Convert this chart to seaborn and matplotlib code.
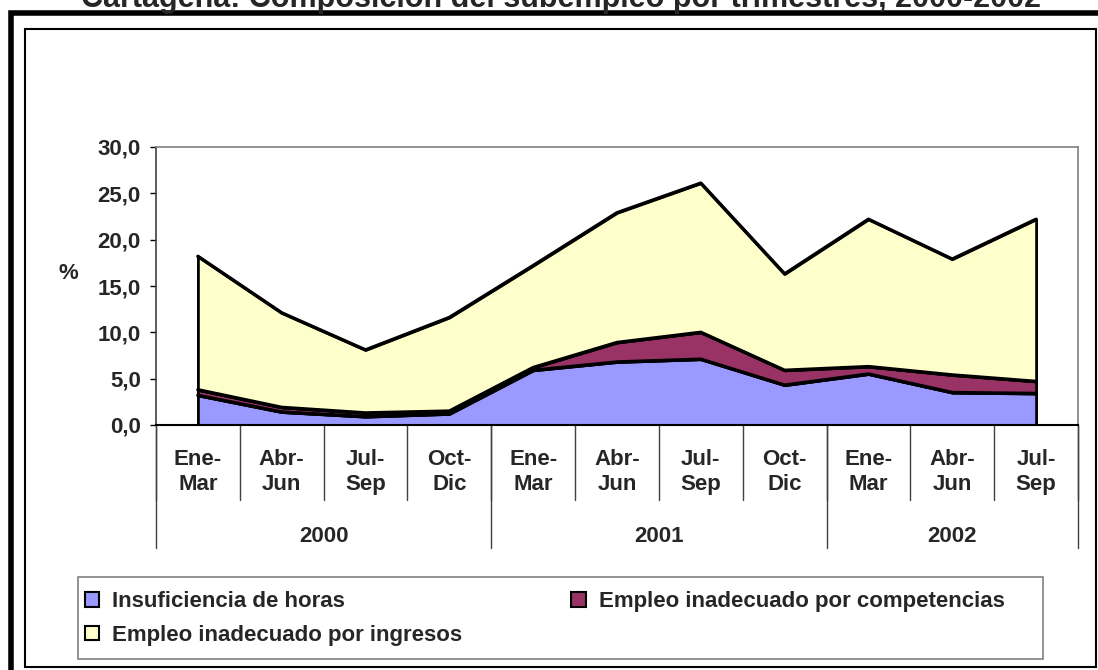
import numpy as np
import pandas as pd
import seaborn as sns
import matplotlib.pyplot as plt
import matplotlib.transforms as mtransforms
from matplotlib.patches import Rectangle, Patch

#------------------------------------------------------------------------------#
# Cartagena: composicion del subempleo por trimestres, 2000-2002
#------------------------------------------------------------------------------#

trimestres = ['Ene-\nMar', 'Abr-\nJun', 'Jul-\nSep', 'Oct-\nDic',
              'Ene-\nMar', 'Abr-\nJun', 'Jul-\nSep', 'Oct-\nDic',
              'Ene-\nMar', 'Abr-\nJun', 'Jul-\nSep']
anios = ['2000', '2001', '2002']
trim_por_anio = [4, 4, 3]

horas        = [3.2, 1.4, 0.9, 1.2, 5.9, 6.8, 7.1, 4.3, 5.5, 3.5, 3.4]
competencias = [0.6, 0.5, 0.4, 0.3, 0.3, 2.1, 2.9, 1.6, 0.8, 1.9, 1.3]
ingresos     = [14.4, 10.2, 6.8, 10.1, 11.0, 14.0, 16.1, 10.4, 15.9, 12.5, 17.5]

series  = ['Insuficiencia de horas', 'Empleo inadecuado por competencias',
           'Empleo inadecuado por ingresos']
colores = ['#9999FF', '#993366', '#FFFFCC']

titulo = 'Cartagena: Composición del subempleo por trimestres, 2000-2002'

#------------------------------------------------------------------------------#

W, H = 1098, 670

def fx(px):
    return px / W

def fy(py):
    return 1 - py / H

def main():

    sns.set_style('white')
    plt.rcParams['font.family'] = ['Liberation Sans', 'DejaVu Sans']
    plt.rcParams['font.weight'] = 'bold'

    fig = plt.figure(figsize=(W / 100, H / 100), dpi=100)
    ax = fig.add_axes([fx(156), fy(425), fx(1078) - fx(156), fy(147) - fy(425)])

    x = np.arange(len(trimestres))
    ax.stackplot(x, horas, competencias, ingresos, colors=colores,
                 edgecolor='black', linewidth=2.0, zorder=2)

    # black boundary lines of every stacked level
    cum = np.cumsum(np.vstack([horas, competencias, ingresos]), axis=0)
    DF = pd.DataFrame({'pos': np.tile(x, 3),
                       'valor': cum.ravel(),
                       'nivel': np.repeat(series, len(x))})
    sns.lineplot(data=DF, x='pos', y='valor', hue='nivel',
                 palette=['black'] * 3, legend=False, linewidth=2.5,
                 ax=ax, zorder=3)

    ax.set_xlim(-0.5, len(trimestres) - 0.5)
    ax.set_ylim(0, 30)
    yt = np.arange(0, 31, 5)
    ax.set_yticks(yt)
    ax.set_yticklabels([('%.1f' % v).replace('.', ',') for v in yt],
                       fontsize=16, fontweight='bold')
    ax.set_xticks([])
    ax.set_xlabel('')
    ax.set_ylabel('')
    ax.tick_params(axis='y', left=True, direction='out', length=4.5,
                   width=1, color='black', pad=6.5)

    for s in ['top', 'right']:
        ax.spines[s].set_color('#808080')
        ax.spines[s].set_linewidth(1.2)
    ax.spines['left'].set_color('#404040')
    ax.spines['left'].set_linewidth(1.2)
    ax.spines['bottom'].set_color('black')
    ax.spines['bottom'].set_linewidth(1.5)
    for s in ax.spines.values():
        s.set_zorder(5)

    # category axis: quarter labels, year labels and dividers
    trans = mtransforms.blended_transform_factory(ax.transData, ax.transAxes)
    for i, lab in enumerate(trimestres):
        ax.text(i, -0.169, lab, transform=trans, ha='center', va='center',
                fontsize=16, fontweight='bold', linespacing=1.3)
    for i in range(len(trimestres) + 1):
        ax.plot([i - 0.5, i - 0.5], [0, -0.27], transform=trans,
                color='#404040', lw=1, clip_on=False)
    start = 0
    for anio, n in zip(anios, trim_por_anio):
        ax.text(start + n / 2 - 0.5, -0.4, anio, transform=trans,
                ha='center', va='center', fontsize=16, fontweight='bold')
        ax.plot([start - 0.5, start - 0.5], [0, -0.442], transform=trans,
                color='#404040', lw=1, clip_on=False)
        start += n
    ax.plot([start - 0.5, start - 0.5], [0, -0.442], transform=trans,
            color='#404040', lw=1, clip_on=False)

    fig.text(fx(68), fy(273), '%', ha='center', va='center',
             fontsize=16, fontweight='bold')
    fig.text(fx(561), fy(7), titulo, ha='center', va='baseline',
             fontsize=22, fontweight='bold')

    # frames
    fig.patches.append(Rectangle((fx(10.5), fy(700)), fx(1130) - fx(10.5),
                                 fy(13.5) - fy(700), transform=fig.transFigure,
                                 fill=False, edgecolor='black', lw=4.0))
    fig.patches.append(Rectangle((fx(25), fy(666.5)), fx(1096) - fx(25),
                                 fy(28.5) - fy(666.5), transform=fig.transFigure,
                                 fill=False, edgecolor='black', lw=1.5))
    fig.patches.append(Rectangle((fx(78), fy(659)), fx(1043) - fx(78),
                                 fy(577) - fy(659), transform=fig.transFigure,
                                 fill=False, edgecolor='#808080', lw=1.2))

    # legend (order so that row 1 = horas, competencias; row 2 = ingresos)
    handles = [Patch(facecolor=c, edgecolor='black', lw=1.5) for c in colores]
    orden = [0, 2, 1]
    fig.legend([handles[i] for i in orden], [series[i] for i in orden],
               ncol=2, loc='upper left', bbox_to_anchor=(fx(66), fy(572)),
               frameon=False, prop={'size': 16, 'weight': 'bold'},
               handlelength=0.65, handleheight=0.65, handletextpad=0.58,
               columnspacing=4.9, borderpad=0.35, labelspacing=0.58)

    fig.savefig('out.png', dpi=100)

if __name__ == '__main__':
    main()
